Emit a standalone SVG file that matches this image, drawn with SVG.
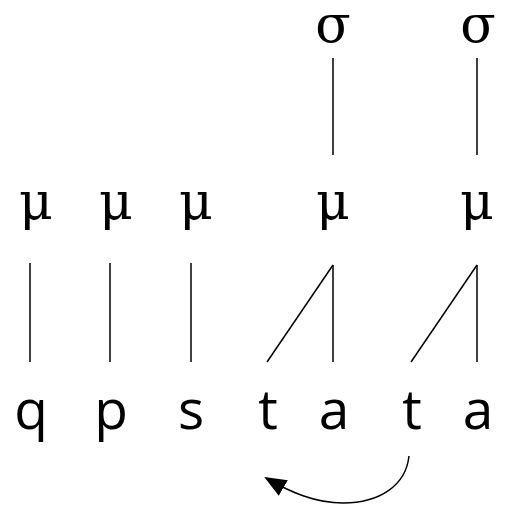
<svg xmlns="http://www.w3.org/2000/svg" width="508" height="505" viewBox="0 0 508 505">
<defs>
<style>
.seg{font-family:"Open Sans","Noto Sans","DejaVu Sans",sans-serif;font-size:55px;fill:#000;text-anchor:middle}
.gr{font-family:"DejaVu Serif","Liberation Serif",serif;font-size:52px;fill:#000;text-anchor:middle}
.ln{stroke:#000;stroke-width:1.5;fill:none}
</style>
<marker id="ah2" markerWidth="22" markerHeight="18" refX="20" refY="9" orient="auto" markerUnits="userSpaceOnUse" viewBox="0 0 22 18">
<path d="M0,0 L22,9 L0,18 Z" fill="#000"/>
</marker>
</defs>
<g id="sigma1"><text class="gr" x="333" y="42">σ</text></g>
<g id="sigma2"><text class="gr" x="478" y="42">σ</text></g>
<g id="mu1"><text class="gr" x="36" y="219">μ</text></g>
<g id="mu2"><text class="gr" x="116" y="219">μ</text></g>
<g id="mu3"><text class="gr" x="196" y="219">μ</text></g>
<g id="mu4"><text class="gr" x="333" y="219">μ</text></g>
<g id="mu5"><text class="gr" x="477" y="219">μ</text></g>
<g id="q"><text class="seg" x="31" y="429">q</text></g>
<g id="p"><text class="seg" x="111" y="429">p</text></g>
<g id="s"><text class="seg" x="191" y="429">s</text></g>
<g id="t1"><text class="seg" x="268" y="429">t</text></g>
<g id="a1"><text class="seg" x="334" y="429">a</text></g>
<g id="t2"><text class="seg" x="412" y="429">t</text></g>
<g id="a2"><text class="seg" x="478" y="429">a</text></g>
<g id="connectors">
<line class="ln" x1="333" y1="58" x2="333" y2="155"/>
<line class="ln" x1="477" y1="58" x2="477" y2="155"/>
<line class="ln" x1="30" y1="263" x2="30" y2="362"/>
<line class="ln" x1="110" y1="263" x2="110" y2="362"/>
<line class="ln" x1="191" y1="263" x2="191" y2="362"/>
<line class="ln" x1="333" y1="265" x2="333" y2="362"/>
<line class="ln" x1="333" y1="265" x2="267" y2="362"/>
<line class="ln" x1="477" y1="265" x2="477" y2="362"/>
<line class="ln" x1="477" y1="265" x2="411" y2="362"/>
<path class="ln" d="M409,456 C406,485 380,503 343,503 C315,503 290,492 266,478" marker-end="url(#ah2)"/>
</g>
</svg>
